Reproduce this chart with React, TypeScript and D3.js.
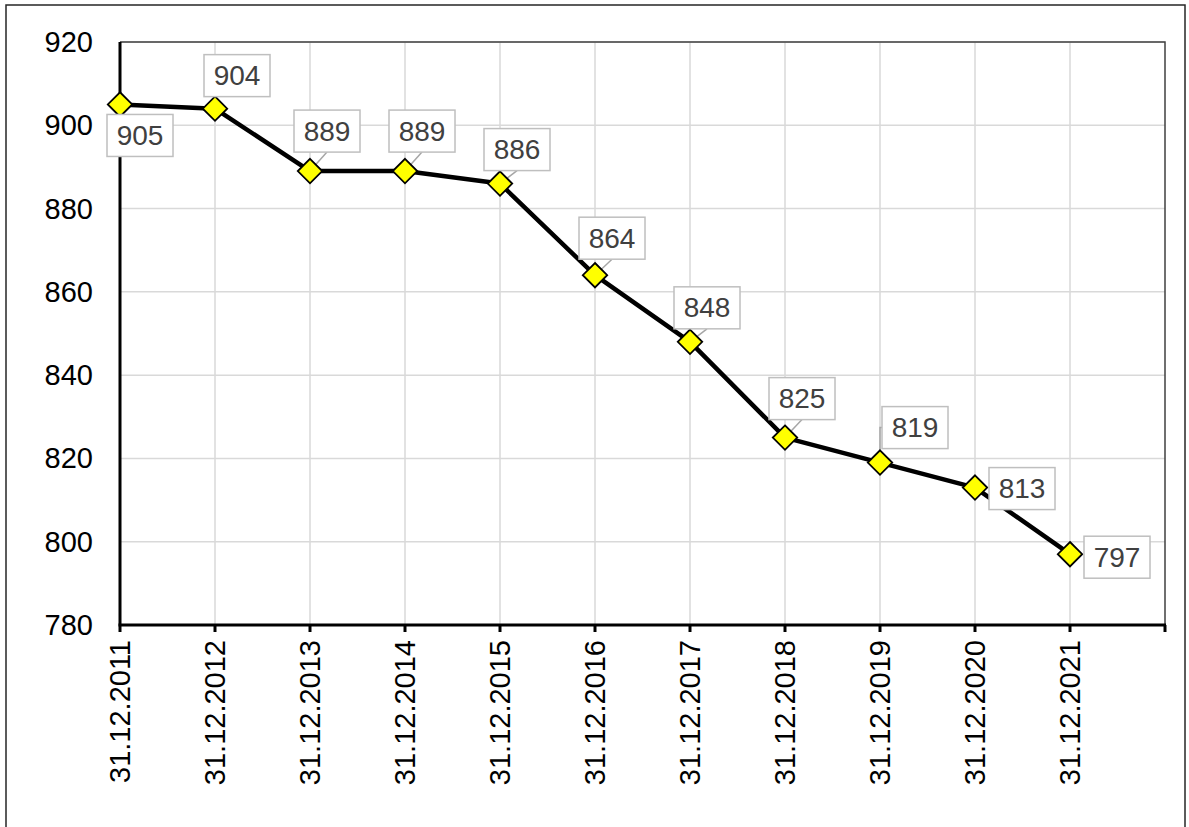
import React from "react";
import * as d3 from "d3";

const categories = [
  "31.12.2011", "31.12.2012", "31.12.2013", "31.12.2014", "31.12.2015", "31.12.2016",
  "31.12.2017", "31.12.2018", "31.12.2019", "31.12.2020", "31.12.2021",
];
const values = [905, 904, 889, 889, 886, 864, 848, 825, 819, 813, 797];
const yTicks = [780, 800, 820, 840, 860, 880, 900, 920];

// label placement relative to the point (box centre), and leader style
const labelDx = [20, 22, 17, 17, 17, 17, 17, 17, 35, 47, 47];
const labelDy = [31, -33, -40, -40, -34, -37, -34, -39, -35, 1, 3];
const leader = ["none", "none", "line", "line", "line", "line", "line", "line", "elbow", "none", "none"];

const W = 1189;
const H = 827;
const margin = { left: 120, right: 24, top: 42, bottom: 202 };

export default function App() {
  const x = d3.scaleLinear().domain([0, categories.length]).range([margin.left, W - margin.right]);
  const y = d3.scaleLinear().domain([780, 920]).range([H - margin.bottom, margin.top]);
  const line = d3.line<number>().x((_, i) => x(i)).y(d => y(d));
  const xIdx = d3.range(categories.length + 1);
  const bw = 66;
  const bh = 42;
  const font = "Arial, 'Liberation Sans', sans-serif";

  return (
    <svg width={W} height={H} style={{ position: "absolute", left: 0, top: 0 }} fontFamily={font}>
      <rect x={0} y={0} width={W} height={H} fill="#fff" />
      <rect x={6} y={5} width={1179} height={840} fill="none" stroke="#262626" strokeWidth={1.5} />

      {/* grid */}
      {yTicks.slice(1).map(t => (
        <line key={"gy" + t} x1={x(0)} x2={x(categories.length)} y1={y(t)} y2={y(t)} stroke="#d9d9d9" strokeWidth={1.5} />
      ))}
      {xIdx.slice(1, -1).map(i => (
        <line key={"gx" + i} x1={x(i)} x2={x(i)} y1={y(920)} y2={y(780)} stroke="#d9d9d9" strokeWidth={1.5} />
      ))}
      {/* plot border top/right */}
      <path d={`M${x(0)},${y(920)}H${x(categories.length)}V${y(780)}`} fill="none" stroke="#404040" strokeWidth={1.5} />

      {/* axes */}
      <line x1={x(0)} x2={x(0)} y1={y(920)} y2={y(780)} stroke="#000" strokeWidth={3} />
      <line x1={x(0) - 1.5} x2={x(categories.length) + 1} y1={y(780)} y2={y(780)} stroke="#000" strokeWidth={3} />
      {xIdx.map(i => (
        <line key={"tx" + i} x1={x(i)} x2={x(i)} y1={y(780)} y2={y(780) + 7} stroke="#000" strokeWidth={3} />
      ))}
      {yTicks.map(t => (
        <text key={"ly" + t} x={93} y={y(t)} textAnchor="end" dominantBaseline="central" fontSize={29} fill="#000">
          {t}
        </text>
      ))}
      {categories.map((c, i) => (
        <text
          key={"lx" + c}
          transform={`translate(${x(i)},${y(780) + 15}) rotate(-90)`}
          textAnchor="end"
          dominantBaseline="central"
          fontSize={29}
          fill="#000"
        >
          {c}
        </text>
      ))}

      {/* series */}
      <path d={line(values) || ""} fill="none" stroke="#000" strokeWidth={4.5} strokeLinejoin="round" />

      {/* leaders */}
      {values.map((v, i) => {
        const px = x(i), py = y(v);
        const bx = px + labelDx[i], by = py + labelDy[i];
        if (leader[i] === "line")
          return <line key={"ld" + i} x1={px} y1={py} x2={bx} y2={by + bh / 2} stroke="#a6a6a6" strokeWidth={1.5} />;
        if (leader[i] === "elbow")
          return <path key={"ld" + i} d={`M${px},${py}V${by}H${bx - bw / 2}`} fill="none" stroke="#a6a6a6" strokeWidth={1.5} />;
        return null;
      })}

      {/* markers */}
      {values.map((v, i) => (
        <path
          key={"m" + i}
          d={d3.symbol(d3.symbolDiamond2, 380)() || ""}
          transform={`translate(${x(i)},${y(v)})`}
          fill="#ffff00"
          stroke="#000"
          strokeWidth={1.8}
        />
      ))}

      {/* data labels */}
      {values.map((v, i) => {
        const bx = x(i) + labelDx[i], by = y(v) + labelDy[i];
        return (
          <g key={"dl" + i}>
            <rect x={bx - bw / 2} y={by - bh / 2} width={bw} height={bh} fill="#fff" stroke="#bfbfbf" strokeWidth={1.5} />
            <text x={bx} y={by} textAnchor="middle" dominantBaseline="central" fontSize={28} fill="#404040">
              {v}
            </text>
          </g>
        );
      })}
    </svg>
  );
}
